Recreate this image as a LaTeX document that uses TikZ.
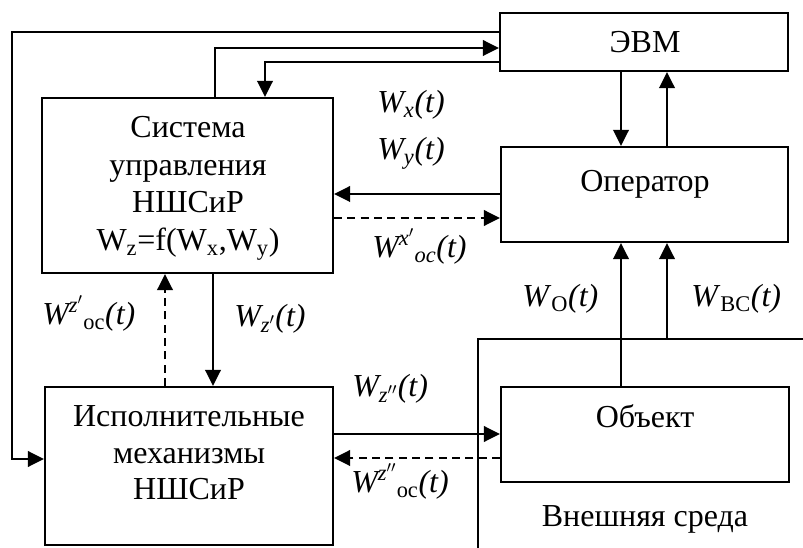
\documentclass[tikz,border=0pt]{standalone}
\usepackage{fontspec}
\setmainfont{Liberation Serif}
\usetikzlibrary{arrows.meta}
\begin{document}
\begin{tikzpicture}[x=0.75pt,y=-0.75pt,
  box/.style={draw, line width=1.6pt, rectangle, inner sep=0pt},
  conn/.style={line width=2pt},
  arr/.style={conn, -{Triangle[length=12pt,width=11.5pt]}},
  dsh/.style={arr, dash pattern=on 6pt off 4pt},
  txt/.style={font=\fontsize{24}{28}\selectfont, inner sep=0pt, anchor=base},
  lbl/.style={font=\fontsize{24}{28}\selectfont, inner sep=0pt, anchor=base west}]
\useasboundingbox (0,0) rectangle (803,548);
% boxes
\node[box, minimum width=216pt, minimum height=43.5pt] (evm) at (644,42) {};
\node[box, minimum width=215.25pt, minimum height=71.25pt] (oper) at (644.5,194.5) {};
\node[box, minimum width=216pt, minimum height=71.25pt] (obj) at (645,434.5) {};
\node[box, minimum width=218.25pt, minimum height=131.25pt] (sys) at (187.5,185.5) {};
\node[box, minimum width=216pt, minimum height=118.5pt] (exec) at (189,466) {};
% box texts
\node[txt] (tevm) at (645,53) {ЭВМ};
\node[txt] (toper) at (645,192) {Оператор};
\node[txt] (tobj) at (645,428) {Объект};
\node[txt] (tenv) at (645,527) {Внешняя среда};
\node[txt] (ts1) at (188,138) {Система};
\node[txt] (ts2) at (188,175.5) {управления};
\node[txt] (ts3) at (188,213) {НШСиР};
\node[txt] (ts4) at (188,250.5) {W\textsubscript{z}=f(W\textsubscript{x},W\textsubscript{y})};
\node[txt] (te1) at (189,427) {Исполнительные};
\node[txt] (te2) at (189,463.5) {механизмы};
\node[txt] (te3) at (189,500) {НШСиР};
% labels
\node[lbl] (lx) at (377,113) {\textit{W\textsubscript{x}(t)}};
\node[lbl] (ly) at (377,160) {\textit{W\textsubscript{y}(t)}};
\node[lbl] (lxoc) at (372,258) {\textit{W\textsuperscript{x$'$}\textsubscript{oc}(t)}};
\node[lbl] (lzoc) at (42,325) {\textit{W\textsuperscript{z$'$}}\textsubscript{oc}\textit{(t)}};
\node[lbl] (lz1) at (234,327) {\textit{W\textsubscript{z$'$}(t)}};
\node[lbl] (lz2) at (352,397) {\textit{W\textsubscript{z$''$}(t)}};
\node[lbl] (lzzoc) at (351,493) {\textit{W\textsuperscript{z$''$}}\textsubscript{oc}\textit{(t)}};
\node[lbl] (lo) at (522,307) {\textit{W}\textsubscript{О}\textit{(t)}};
\node[lbl] (lbc) at (691,307) {\textit{W}\textsubscript{ВС}\textit{(t)}};
% helper coordinates
\coordinate (xo) at (12,0);
\coordinate (xs1) at (215,0);
\coordinate (xs2) at (265,0);
\coordinate (xe1) at (621,0);
\coordinate (xe2) at (667,0);
\coordinate (xd) at (165,0);
\coordinate (xz) at (213,0);
\coordinate (y1) at (0,32);
\coordinate (y2) at (0,48);
\coordinate (y3) at (0,62);
\coordinate (ya) at (0,194);
\coordinate (yb) at (0,218);
\coordinate (yc) at (0,434);
\coordinate (yd) at (0,458);
\coordinate (yex) at (0,459);
\coordinate (envc) at (667,339);
\coordinate (envr) at (803,339);
\coordinate (envk) at (478,339);
\coordinate (envb) at (478,548);
% connectors
\draw[arr] (evm.west |- y1) -- (xo |- y1) -- (xo |- yex) -- (exec.west |- yex);
\draw[arr] (sys.north -| xs1) -- (xs1 |- y2) -- (evm.west |- y2);
\draw[arr] (evm.west |- y3) -- (xs2 |- y3) -- (sys.north -| xs2);
\draw[arr] (evm.south -| xe1) -- (oper.north -| xe1);
\draw[arr] (oper.north -| xe2) -- (evm.south -| xe2);
\draw[arr] (oper.west |- ya) -- (sys.east |- ya);
\draw[dsh] (sys.east |- yb) -- (oper.west |- yb);
\draw[dsh] (exec.north -| xd) -- (sys.south -| xd);
\draw[arr] (sys.south -| xz) -- (exec.north -| xz);
\draw[arr] (exec.east |- yc) -- (obj.west |- yc);
\draw[dsh] (obj.west |- yd) -- (exec.east |- yd);
\draw[arr] (obj.north -| xe1) -- (oper.south -| xe1);
\draw[arr] (envc) -- (oper.south -| xe2);
\draw[box] (envr) -- (envk) -- (envb);
\end{tikzpicture}
\end{document}
